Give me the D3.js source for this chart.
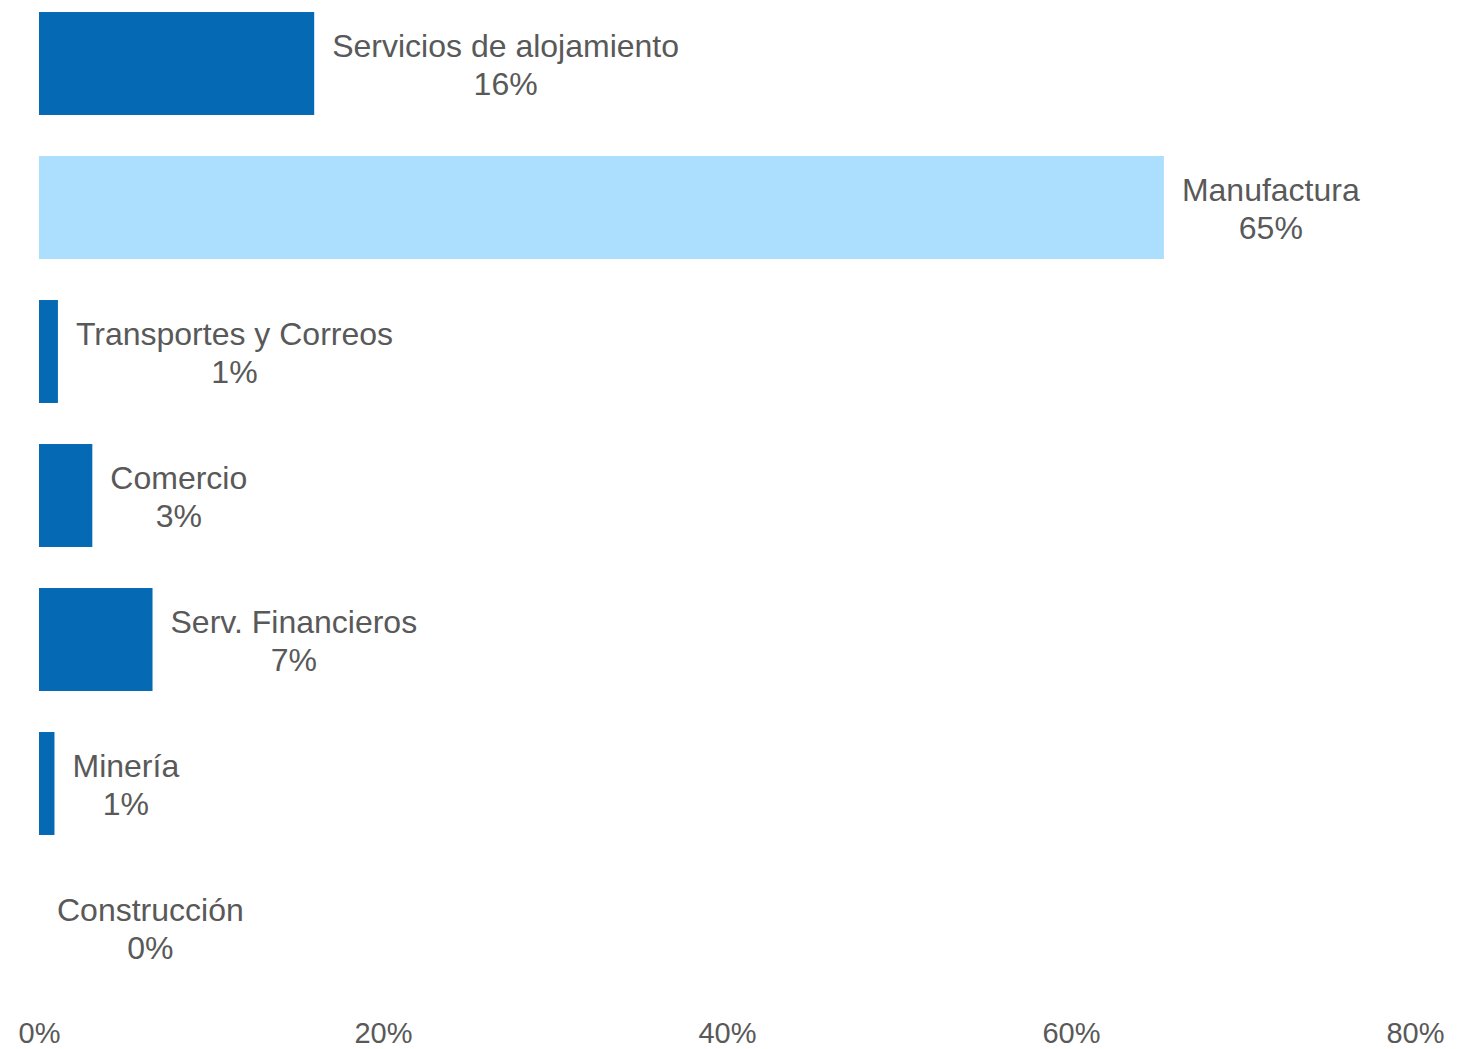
<!DOCTYPE html>
<html>
<head>
<meta charset="utf-8">
<script src="https://cdn.jsdelivr.net/npm/d3@7"></script>
<style>
  html, body { margin: 0; padding: 0; background: #ffffff; }
  svg { display: block; }
  text { font-family: "Liberation Sans", Arial, Helvetica, sans-serif; fill: #595959; }
</style>
</head>
<body>
<svg id="chart" width="1483" height="1049"></svg>
<script>
// Sector shares (percent)
const sectors = ["Servicios de alojamiento", "Manufactura", "Transportes y Correos", "Comercio", "Serv. Financieros", "Minería", "Construcción"];
const shares = [16.0, 65.4, 1.1, 3.1, 6.6, 0.9, 0.0];
const highlighted = ["Manufactura"];
const xTicks = [0, 20, 40, 60, 80];

const svg = d3.select("#chart");

const x = d3.scaleLinear().domain([0, 80]).range([39, 1415]);
const y = d3.scaleBand()
  .domain(sectors)
  .range([-8.5, 999.5])
  .paddingInner(0.285)
  .paddingOuter(0.1425);

const data = sectors.map((s, i) => ({ name: s, value: shares[i] }));
const fmt = v => d3.format(".0f")(v) + "%";

// Bars
svg.append("g").selectAll("rect")
  .data(data)
  .join("rect")
  .attr("x", x(0))
  .attr("y", d => y(d.name))
  .attr("width", d => x(d.value) - x(0))
  .attr("height", y.bandwidth())
  .attr("fill", d => highlighted.includes(d.name) ? "#acdefe" : "#0569b4");

// Two-line labels to the right of each bar: name and share
const labels = svg.append("g").selectAll("g")
  .data(data)
  .join("g");

labels.each(function(d) {
  const g = d3.select(this);
  const cy = y(d.name) + y.bandwidth() / 2;
  const t1 = g.append("text")
    .attr("font-size", 32)
    .attr("text-anchor", "middle")
    .attr("y", cy - 7)
    .text(d.name);
  const t2 = g.append("text")
    .attr("font-size", 32)
    .attr("text-anchor", "middle")
    .attr("y", cy + 31)
    .text(fmt(d.value));
  const w = Math.max(t1.node().getComputedTextLength(), t2.node().getComputedTextLength());
  const cx = x(d.value) + 18 + w / 2;
  t1.attr("x", cx);
  t2.attr("x", cx);
});

// Bottom axis: tick labels only
const axis = svg.append("g")
  .attr("transform", "translate(0,1043)")
  .call(d3.axisBottom(x).tickValues(xTicks).tickSize(0).tickFormat(d => d + "%"));
axis.select(".domain").remove();
axis.selectAll("text")
  .attr("y", 0)
  .attr("dy", 0)
  .attr("font-size", 29)
  .style("font-family", "'Liberation Sans', Arial, Helvetica, sans-serif")
  .attr("fill", "#595959");
</script>
</body>
</html>
